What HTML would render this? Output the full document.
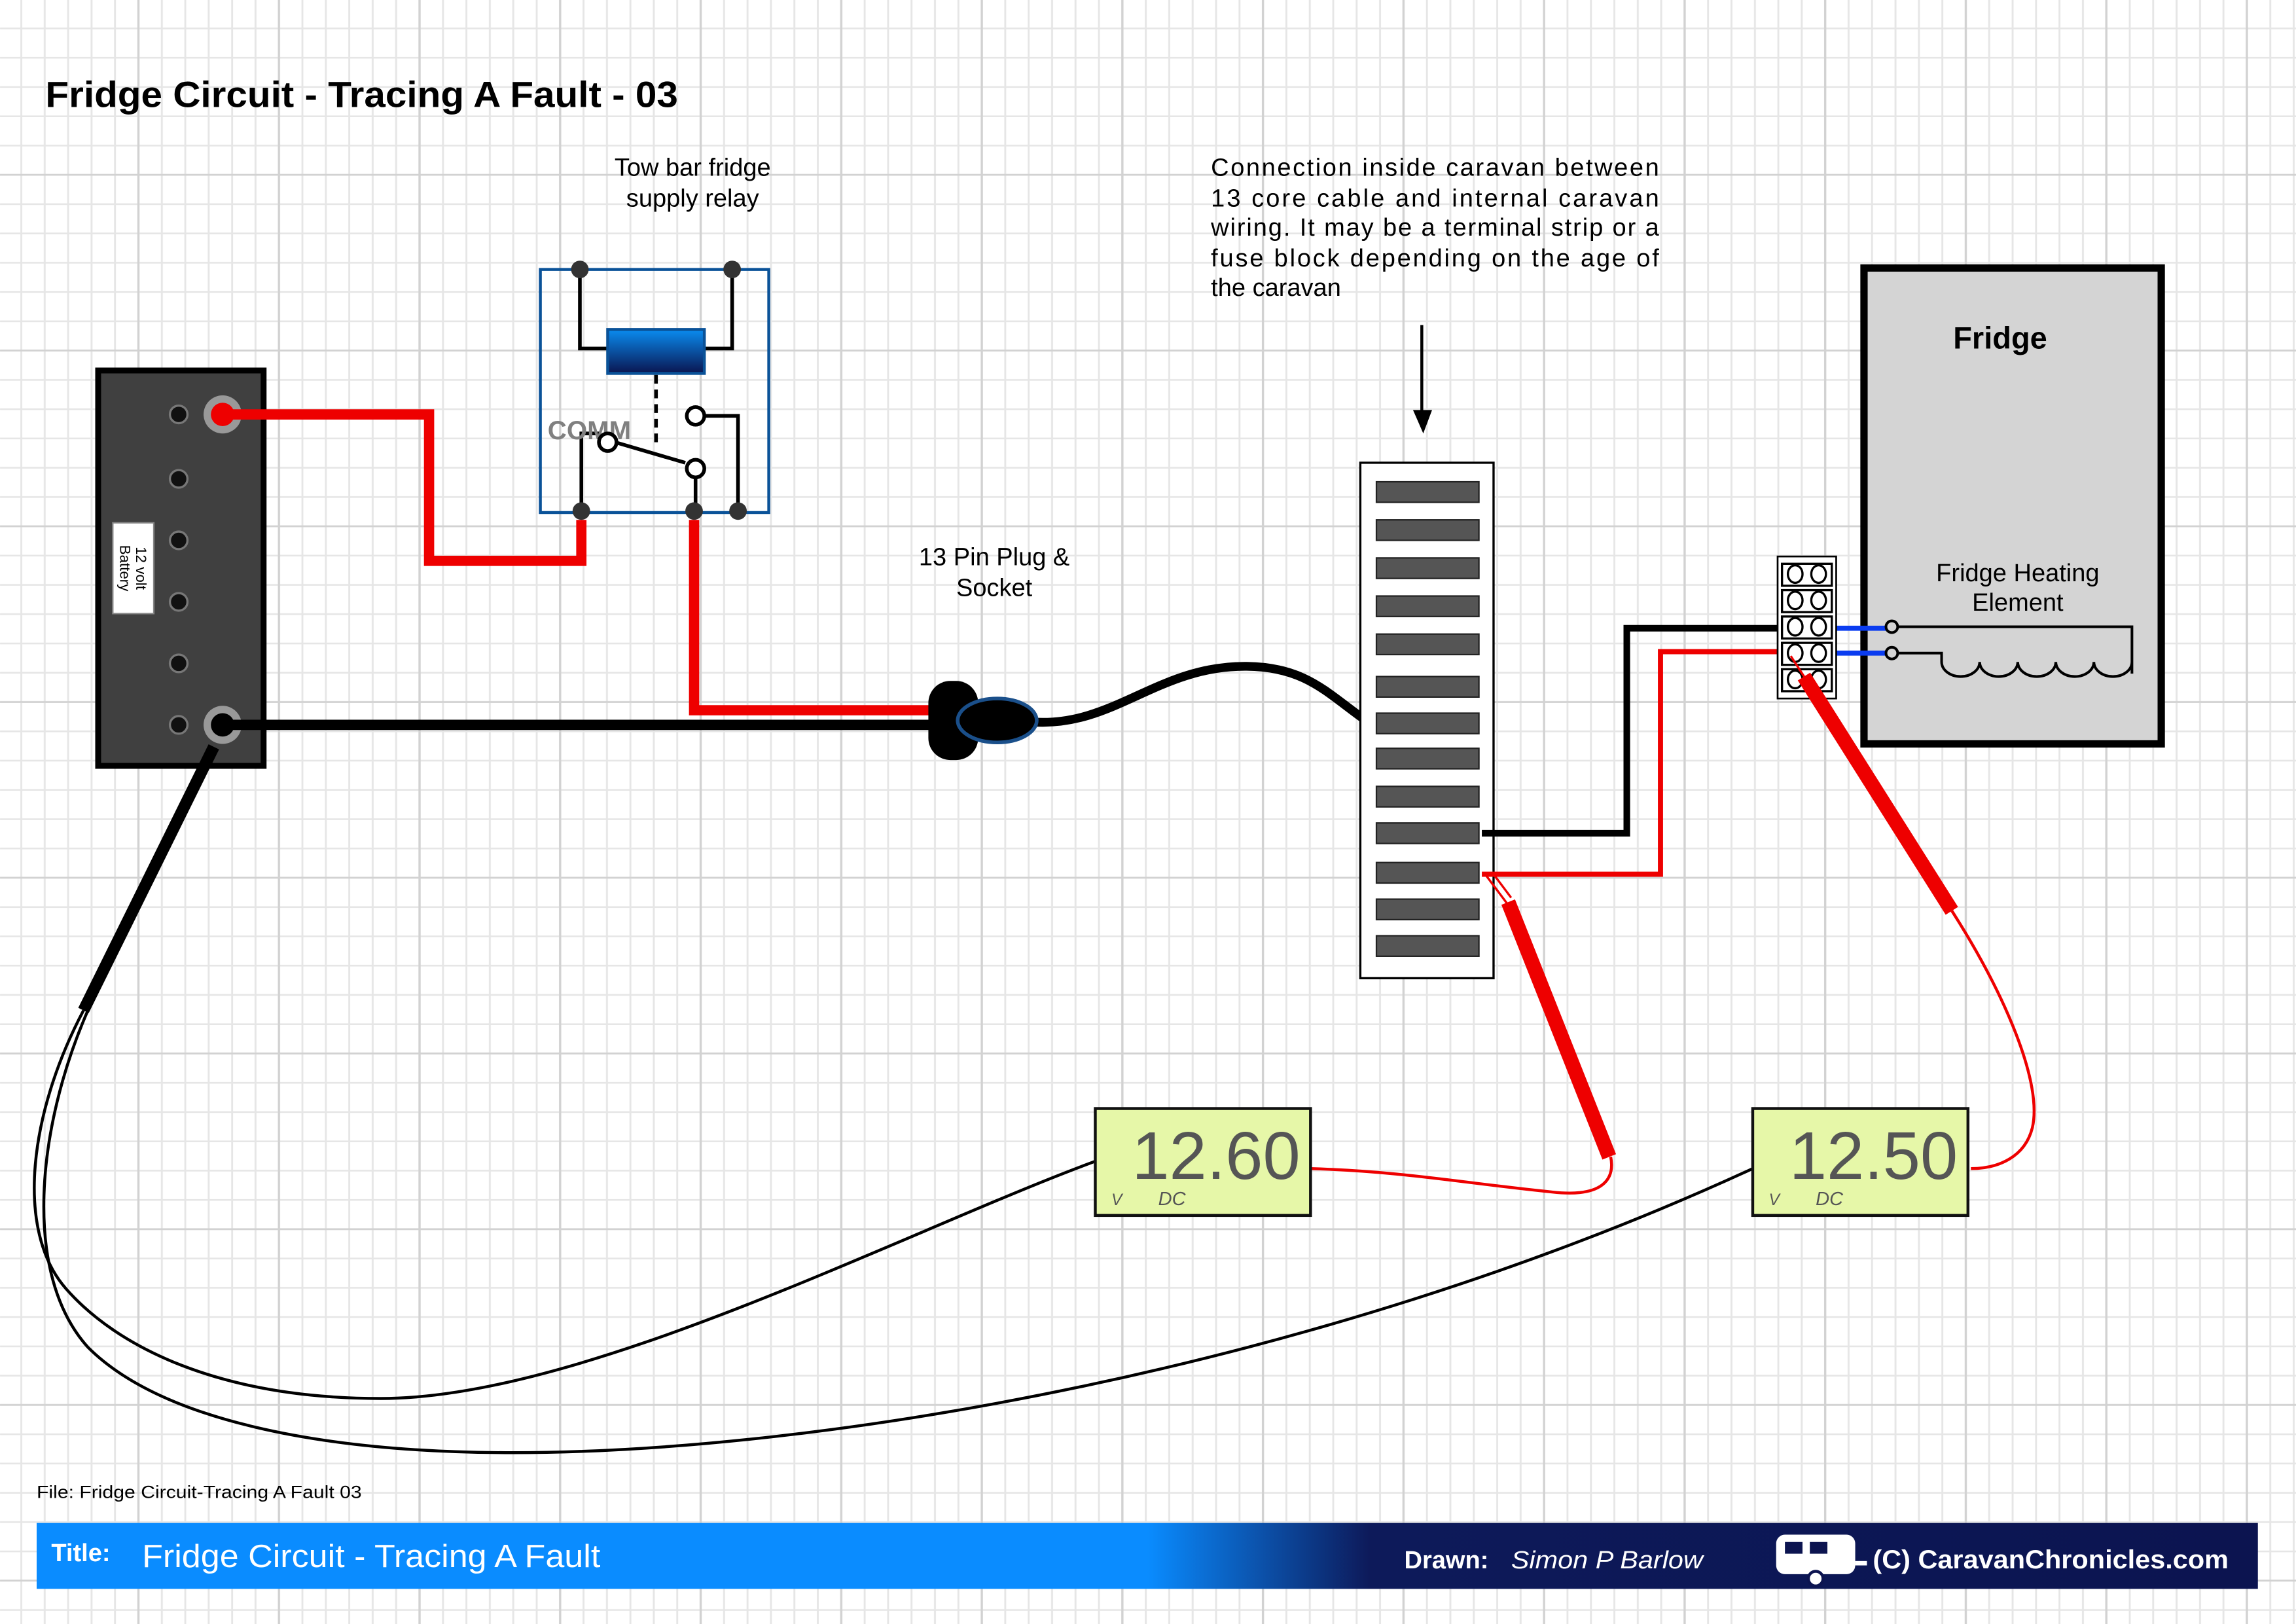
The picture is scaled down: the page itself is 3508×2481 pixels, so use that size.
<!DOCTYPE html>
<html><head><meta charset="utf-8"><style>
html,body{margin:0;padding:0;background:#fff}
svg{display:block}
text{font-family:"Liberation Sans",Arial,sans-serif}
</style></head><body>
<svg width="3508" height="2481" viewBox="0 0 1568 1109" xmlns="http://www.w3.org/2000/svg">
<defs>
<pattern id="g" x="0" y="0" width="16" height="20" patternUnits="userSpaceOnUse">
<path d="M14.5 0V20M0 19.5H16" stroke="#e6e6e6" stroke-width="1.3" fill="none"/>
</pattern>
<pattern id="G" x="0" y="0" width="96" height="120" patternUnits="userSpaceOnUse">
<path d="M94.5 0V120M0 119.5H96" stroke="#d2d2d2" stroke-width="1.5" fill="none"/>
</pattern>
<linearGradient id="coil" x1="0" y1="0" x2="0" y2="1"><stop offset="0" stop-color="#0a8cf0"/><stop offset="1" stop-color="#0a1550"/></linearGradient>
<linearGradient id="bar" x1="0" y1="0" x2="1" y2="0"><stop offset="0" stop-color="#0a8cff"/><stop offset="0.5" stop-color="#0a8cff"/><stop offset="0.6" stop-color="#0d1a5a"/><stop offset="1" stop-color="#0c1450"/></linearGradient>
</defs>
<rect width="1568" height="1109" fill="#fff"/>
<rect width="1568" height="1109" fill="url(#g)"/>
<rect width="1568" height="1109" fill="url(#G)"/>

<text x="31" y="73" font-size="25" font-weight="bold" textLength="432" lengthAdjust="spacingAndGlyphs">Fridge Circuit - Tracing A Fault - 03</text>

<!-- battery -->
<rect x="67" y="253" width="113" height="270" fill="#404040" stroke="#000" stroke-width="4"/>
<g fill="#111" stroke="#777" stroke-width="1.5">
<circle cx="122" cy="283" r="6"/><circle cx="122" cy="327" r="6"/><circle cx="122" cy="369" r="6"/><circle cx="122" cy="411" r="6"/><circle cx="122" cy="453" r="6"/><circle cx="122" cy="495" r="6"/>
</g>
<circle cx="152" cy="283" r="13" fill="#999"/><circle cx="152" cy="283" r="8" fill="#e00"/>
<circle cx="152" cy="495" r="13" fill="#999"/><circle cx="152" cy="495" r="8" fill="#000"/>
<rect x="77" y="357" width="28" height="62" fill="#fff" stroke="#888"/>
<text transform="translate(93,388) rotate(90)" font-size="10" text-anchor="middle">12 volt</text>
<text transform="translate(82,388) rotate(90)" font-size="10" text-anchor="middle">Battery</text>

<!-- relay -->
<text x="473" y="120" font-size="17" text-anchor="middle">Tow bar fridge</text>
<text x="473" y="141" font-size="17" text-anchor="middle">supply relay</text>
<rect x="369" y="184" width="156" height="166" fill="none" stroke="#0a5298" stroke-width="2"/>
<g stroke="#000" stroke-width="2.5" fill="none">
<path d="M396 184V238H415M481 238H500V184"/>
<path d="M397 349V296H410"/>
<path d="M420 302L468 316"/>
<path d="M475 327V349"/>
<path d="M480 284H504V349"/>
<path d="M448 256V306" stroke-dasharray="6,4"/>
</g>
<rect x="415" y="225" width="66" height="30" fill="url(#coil)" stroke="#0a5298" stroke-width="2"/>
<text x="374" y="300" font-size="18" font-weight="bold" fill="#808080">COMM</text>
<g fill="#fff" stroke="#000" stroke-width="2.5">
<circle cx="475" cy="284" r="6"/><circle cx="475" cy="320" r="6"/><circle cx="415" cy="302" r="6"/>
</g>
<g fill="#333"><circle cx="396" cy="184" r="6"/><circle cx="500" cy="184" r="6"/><circle cx="397" cy="349" r="6"/><circle cx="474" cy="349" r="6"/><circle cx="504" cy="349" r="6"/></g>

<!-- wires -->
<g fill="none" stroke-linejoin="miter">
<path d="M158 283H293V383H397V355" stroke="#e00" stroke-width="7"/>
<path d="M474 355V485H640" stroke="#e00" stroke-width="7"/>
<path d="M158 495H640" stroke="#000" stroke-width="7"/>
<path d="M705 493C760 497 790 455 850 455C890 455 905 472 930 490" stroke="#000" stroke-width="6"/>
</g>
<!-- plug -->
<rect x="634" y="465" width="34" height="54" rx="15" fill="#000"/>
<ellipse cx="681" cy="492" rx="27" ry="15" fill="#000" stroke="#1a4f8a" stroke-width="2.5"/>
<text x="679" y="386" font-size="17" text-anchor="middle">13 Pin Plug &amp;</text>
<text x="679" y="407" font-size="17" text-anchor="middle">Socket</text>

<!-- connection text -->
<g font-size="17">
<text x="827" y="120" textLength="306" lengthAdjust="spacing">Connection inside caravan between</text>
<text x="827" y="141" textLength="306" lengthAdjust="spacing">13 core cable and internal caravan</text>
<text x="827" y="161" textLength="306" lengthAdjust="spacing">wiring. It may be a terminal strip or a</text>
<text x="827" y="182" textLength="306" lengthAdjust="spacing">fuse block depending on the age of</text>
<text x="827" y="202">the caravan</text>
</g>
<path d="M971 222V285" stroke="#000" stroke-width="2"/>
<path d="M965 280L972 296L978 280Z" fill="#000"/>

<!-- terminal strip -->
<rect x="929" y="316" width="91" height="352" fill="#fff" stroke="#000" stroke-width="1.5"/>
<g fill="#555" stroke="#222" stroke-width="1">
<rect x="940" y="329" width="70" height="14"/><rect x="940" y="355" width="70" height="14"/><rect x="940" y="381" width="70" height="14"/><rect x="940" y="407" width="70" height="14"/><rect x="940" y="433" width="70" height="14"/><rect x="940" y="462" width="70" height="14"/><rect x="940" y="487" width="70" height="14"/><rect x="940" y="511" width="70" height="14"/><rect x="940" y="537" width="70" height="14"/><rect x="940" y="562" width="70" height="14"/><rect x="940" y="589" width="70" height="14"/><rect x="940" y="614" width="70" height="14"/><rect x="940" y="639" width="70" height="14"/>
</g>
<path d="M1012 569H1111V429H1218" fill="none" stroke="#000" stroke-width="4.5"/>
<path d="M1012 597H1134V445H1222" fill="none" stroke="#e00" stroke-width="3.5"/>

<!-- fridge -->
<rect x="1273" y="183" width="203" height="325" fill="#d4d4d4" stroke="#000" stroke-width="5"/>
<text x="1366" y="238" font-size="21" font-weight="bold" text-anchor="middle">Fridge</text>
<text x="1378" y="397" font-size="17" text-anchor="middle">Fridge Heating</text>
<text x="1378" y="417" font-size="17" text-anchor="middle">Element</text>
<path d="M1254 429H1288M1254 446H1288" stroke="#0a3cf0" stroke-width="3.5"/>
<g fill="none" stroke="#000" stroke-width="1.8">
<circle cx="1292" cy="428" r="4"/><circle cx="1292" cy="446" r="4"/>
<path d="M1296 428H1456V460M1296 446H1326V452A13 10 0 0 0 1352 452A13 10 0 0 0 1378 452A13 10 0 0 0 1404 452A13 10 0 0 0 1430 452A13 10 0 0 0 1456 452V460"/>
</g>
<!-- fridge terminal block -->
<rect x="1214" y="380" width="40" height="97" fill="#fff" stroke="#000" stroke-width="1.2"/>
<g fill="#fff" stroke="#000" stroke-width="1.5">
<rect x="1217" y="385" width="34" height="15"/><rect x="1217" y="403" width="34" height="15"/><rect x="1217" y="421" width="34" height="15"/><rect x="1217" y="439" width="34" height="15"/><rect x="1217" y="457" width="34" height="15"/>
<g><ellipse cx="1226" cy="392" rx="5" ry="6"/><ellipse cx="1242" cy="392" rx="5" ry="6"/><ellipse cx="1226" cy="410" rx="5" ry="6"/><ellipse cx="1242" cy="410" rx="5" ry="6"/><ellipse cx="1226" cy="428" rx="5" ry="6"/><ellipse cx="1242" cy="428" rx="5" ry="6"/><ellipse cx="1226" cy="446" rx="5" ry="6"/><ellipse cx="1242" cy="446" rx="5" ry="6"/><ellipse cx="1226" cy="464" rx="5" ry="6"/><ellipse cx="1242" cy="464" rx="5" ry="6"/></g>
</g>

<!-- probes -->
<g stroke-linecap="butt" fill="none">
<path d="M1015 598L1030 618M1020 597L1032 613" stroke="#e00" stroke-width="1.5"/>
<path d="M1030 616L1099 790" stroke="#e00" stroke-width="10"/>
<path d="M1223 448L1236 468" stroke="#e00" stroke-width="1.5"/>
<path d="M1232 462L1333 622" stroke="#e00" stroke-width="10"/>
<path d="M1333 622C1370 680 1395 740 1388 770C1383 790 1365 798 1346 798" stroke="#e00" stroke-width="2"/>
<path d="M895 798C960 800 1000 808 1060 814C1095 818 1103 805 1100 790" stroke="#e00" stroke-width="2"/>
<path d="M146 510L57 690" stroke="#000" stroke-width="8"/>
<path d="M57 690C20 760 10 840 45 880C80 920 150 955 260 955C400 955 620 840 748 793" stroke="#000" stroke-width="2"/>
<path d="M60 690C25 770 15 870 60 920C110 970 220 992 350 992C560 992 900 935 1197 798" stroke="#000" stroke-width="2"/>
</g>

<!-- meters -->
<g>
<rect x="748" y="757" width="147" height="73" fill="#e6f7a8" stroke="#111" stroke-width="2"/>
<text x="773" y="805" font-size="46" font-family="DejaVu Sans Mono, monospace" fill="#555" textLength="115" lengthAdjust="spacingAndGlyphs">12.60</text>
<text x="759" y="823" font-size="11" fill="#555" font-style="italic">V</text>
<text x="791" y="823" font-size="13" fill="#555" font-style="italic">DC</text>
<rect x="1197" y="757" width="147" height="73" fill="#e6f7a8" stroke="#111" stroke-width="2"/>
<text x="1222" y="805" font-size="46" font-family="DejaVu Sans Mono, monospace" fill="#555" textLength="115" lengthAdjust="spacingAndGlyphs">12.50</text>
<text x="1208" y="823" font-size="11" fill="#555" font-style="italic">V</text>
<text x="1240" y="823" font-size="13" fill="#555" font-style="italic">DC</text>
</g>

<!-- footer -->
<text x="25" y="1023" font-size="12" textLength="222" lengthAdjust="spacingAndGlyphs">File: Fridge Circuit-Tracing A Fault 03</text>
<rect x="25" y="1040" width="1517" height="45" fill="url(#bar)"/>
<text x="35" y="1066" font-size="17" font-weight="bold" fill="#fff">Title:</text>
<text x="97" y="1070" font-size="22" fill="#fff" textLength="313" lengthAdjust="spacingAndGlyphs">Fridge Circuit - Tracing A Fault</text>
<text x="959" y="1071" font-size="17" font-weight="bold" fill="#fff">Drawn:</text>
<text x="1032" y="1071" font-size="17" font-style="italic" fill="#fff" textLength="131" lengthAdjust="spacingAndGlyphs">Simon P Barlow</text>
<g fill="#fff">
<rect x="1213" y="1048" width="54" height="27" rx="6"/>
<rect x="1219" y="1053" width="12" height="8" fill="#0c1450"/><rect x="1236" y="1053" width="12" height="8" fill="#0c1450"/>
<circle cx="1240" cy="1078" r="5" stroke="#0c1450" stroke-width="2"/>
<rect x="1267" y="1066" width="8" height="3"/>
</g>
<text x="1279" y="1071" font-size="18" font-weight="bold" fill="#fff" textLength="243" lengthAdjust="spacingAndGlyphs">(C) CaravanChronicles.com</text>
</svg>
</body></html>
